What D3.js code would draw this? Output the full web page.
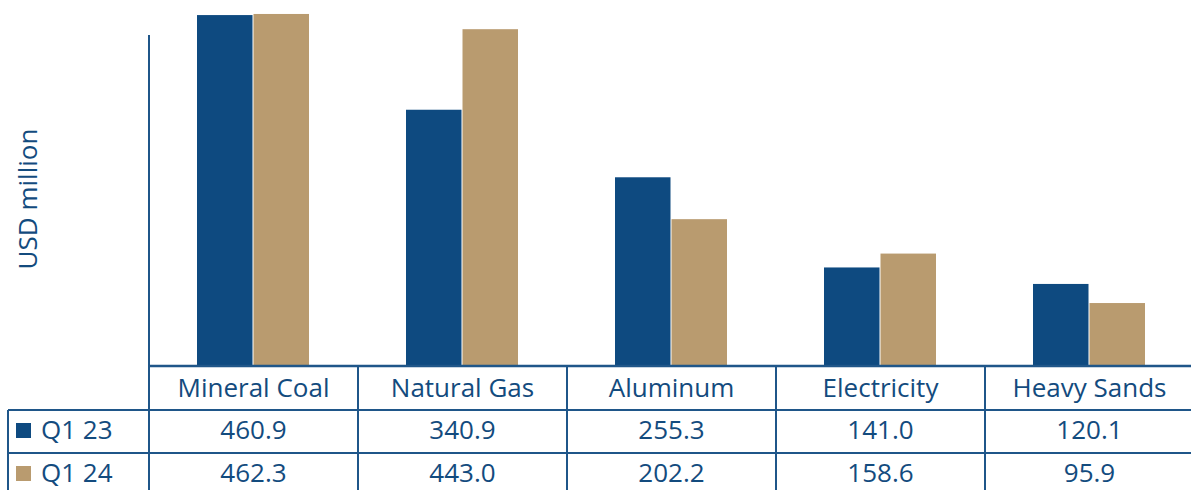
<!DOCTYPE html>
<html>
<head>
<meta charset="utf-8">
<title>Exports by product, Q1 23 vs Q1 24</title>
<style>
  body { margin: 0; background: #fff; }
  svg { display: block; }
  text { font-family: 'Open Sans', sans-serif; fill: #134b7e; }
</style>
</head>
<body>
<div id="chart"></div>
<script src="https://cdn.jsdelivr.net/npm/d3@7"></script>
<script>
  var categories = ['Mineral Coal', 'Natural Gas', 'Aluminum', 'Electricity', 'Heavy Sands'];
  var seriesNames = ['Q1 23', 'Q1 24'];
  var q123 = [460.9, 340.9, 255.3, 141.0, 120.1];
  var q124 = [462.3, 443.0, 202.2, 158.6, 95.9];
  var seriesColors = ['#0e4a80', '#b99b6f'];

  var width = 1191, height = 490;
  var axisX = 149, baseY = 366;
  var row1 = 410, row2 = 453;
  var lineColor = '#1f5689';
  var fontSize = '26px';

  var svg = d3.select('#chart').append('svg')
      .attr('width', width)
      .attr('height', height);

  var x0 = d3.scaleBand().domain(categories).range([axisX, axisX + 209 * categories.length]);
  var x1 = d3.scaleBand().domain(seriesNames).range([48, 161]);
  var y = d3.scaleLinear().domain([0, 480]).range([378.7, 0]);

  var data = categories.map(function(c, i) {
    return { cat: c, vals: [q123[i], q124[i]] };
  });

  // bars
  var groups = svg.selectAll('.grp')
      .data(data)
      .enter().append('g')
      .attr('class', 'grp')
      .attr('transform', function(d) { return 'translate(' + x0(d.cat) + ',0)'; });

  groups.selectAll('rect')
      .data(function(d) { return d.vals.map(function(v, j) { return { s: seriesNames[j], v: v, j: j }; }); })
      .enter().append('rect')
      .attr('x', function(d) { return x1(d.s); })
      .attr('width', x1.bandwidth() - 1)
      .attr('y', function(d) { return y(d.v); })
      .attr('height', function(d) { return baseY - y(d.v); })
      .attr('fill', function(d) { return seriesColors[d.j]; });

  // y axis line (no ticks)
  svg.append('line')
      .attr('x1', axisX).attr('x2', axisX)
      .attr('y1', 35).attr('y2', height)
      .attr('stroke', lineColor).attr('stroke-width', 2);

  svg.append('text')
      .attr('transform', 'translate(37,199) rotate(-90)')
      .attr('text-anchor', 'middle')
      .style('font-size', fontSize)
      .text('USD million');

  // table lines
  svg.append('line')
      .attr('x1', axisX).attr('x2', width)
      .attr('y1', baseY).attr('y2', baseY)
      .attr('stroke', lineColor).attr('stroke-width', 2.5);
  [row1, row2].forEach(function(yy) {
    svg.append('line')
        .attr('x1', 8).attr('x2', width)
        .attr('y1', yy).attr('y2', yy)
        .attr('stroke', lineColor).attr('stroke-width', 2);
  });
  svg.append('line')
      .attr('x1', 8).attr('x2', 8)
      .attr('y1', row1).attr('y2', height)
      .attr('stroke', lineColor).attr('stroke-width', 2);
  categories.slice(1).forEach(function(c) {
    svg.append('line')
        .attr('x1', x0(c)).attr('x2', x0(c))
        .attr('y1', baseY).attr('y2', height)
        .attr('stroke', lineColor).attr('stroke-width', 2);
  });

  // header labels
  svg.selectAll('.hdr')
      .data(categories)
      .enter().append('text')
      .attr('class', 'hdr')
      .attr('x', function(d) { return x0(d) + x0.bandwidth() / 2; })
      .attr('y', 397)
      .attr('text-anchor', 'middle')
      .style('font-size', fontSize)
      .text(function(d) { return d; });

  // value rows
  [q123, q124].forEach(function(vals, j) {
    var by = j === 0 ? 439 : 482;
    svg.append('rect')
        .attr('x', 16).attr('y', by - 16)
        .attr('width', 15).attr('height', 15)
        .attr('fill', seriesColors[j]);
    svg.append('text')
        .attr('x', 41).attr('y', by)
        .style('font-size', fontSize)
        .text(seriesNames[j]);
    svg.selectAll('.v' + j)
        .data(vals)
        .enter().append('text')
        .attr('class', 'v' + j)
        .attr('x', function(d, i) { return x0(categories[i]) + x0.bandwidth() / 2; })
        .attr('y', by)
        .attr('text-anchor', 'middle')
        .style('font-size', fontSize)
        .text(function(d) { return d.toFixed(1); });
  });
</script>
</body>
</html>
